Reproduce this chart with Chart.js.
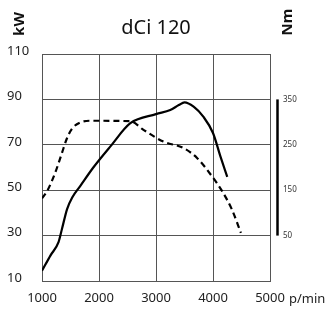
<!DOCTYPE html>
<html><head><meta charset="utf-8">
<script src="https://cdn.jsdelivr.net/npm/chart.js@4/dist/chart.umd.min.js"></script>
<style>html,body{margin:0;padding:0;background:#fff;overflow:hidden}</style>
</head><body>
<canvas id="c" width="333" height="309"></canvas>
<script>
const chartTitle = 'dCi 120';
const xTicks = [1000, 2000, 3000, 4000, 5000];
const kwTicks = [10, 30, 50, 70, 90, 110];
const nmTicks = [50, 150, 250, 350];
const powerRpm = [1000, 1150, 1290, 1350, 1440, 1530, 1670, 1900, 2200, 2550, 3000, 3250, 3400, 3500, 3660, 3830, 4000, 4130, 4250];
const powerKw  = [14.5, 21.3, 27.1, 32.9, 41.7, 46.8, 51.8, 60.0, 69.3, 79.5, 83.5, 85.3, 87.5, 88.7, 86.8, 82.4, 75.2, 64.9, 55.9];
const torqueRpm = [1000, 1090, 1230, 1350, 1440, 1530, 1670, 1880, 2550, 2780, 3130, 3480, 3720, 3980, 4160, 4330, 4490];
const torqueNm  = [132, 148, 188, 232, 265, 286, 299, 303, 302, 283, 257, 243, 221, 181, 148, 108, 56];

const FONT = '"Noto Sans", sans-serif';
const powerData = powerRpm.map((r, i) => ({x: r, y: powerKw[i]}));
const torqueData = torqueRpm.map((r, i) => ({x: r, y: torqueNm[i]}));

const extras = {
  id: 'extras',
  afterDraw(chart) {
    const ctx = chart.ctx;
    const y2 = chart.scales.y2, x = chart.scales.x;
    ctx.save();
    ctx.strokeStyle = '#000';
    ctx.lineWidth = 2.5;
    const bx = y2.left + 7.5;
    ctx.beginPath();
    ctx.moveTo(bx, y2.getPixelForValue(nmTicks[0]));
    ctx.lineTo(bx, y2.getPixelForValue(nmTicks[nmTicks.length - 1]));
    ctx.stroke();
    ctx.fillStyle = '#111';
    ctx.font = 'bold 15px ' + FONT;
    ctx.textAlign = 'center';
    ctx.textBaseline = 'middle';
    ctx.save(); ctx.translate(20, 24); ctx.rotate(-Math.PI / 2); ctx.fillText('kW', 0, 0); ctx.restore();
    ctx.save(); ctx.translate(288, 22); ctx.rotate(-Math.PI / 2); ctx.fillText('Nm', 0, 0); ctx.restore();
    ctx.font = '13px ' + FONT;
    ctx.fillStyle = '#222';
    ctx.textAlign = 'left';
    ctx.fillText('p/min', x.getPixelForValue(xTicks[xTicks.length - 1]) + 19, 299);
    ctx.restore();
  }
};

new Chart(document.getElementById('c'), {
  type: 'line',
  data: {
    datasets: [
      {data: powerData, yAxisID: 'y', borderColor: '#000', borderWidth: 2.2, pointRadius: 0, cubicInterpolationMode: 'monotone', fill: false},
      {data: torqueData, yAxisID: 'y2', borderColor: '#000', borderWidth: 2.2, borderDash: [6, 4], pointRadius: 0, cubicInterpolationMode: 'monotone', fill: false}
    ]
  },
  options: {
    responsive: false,
    animation: false,
    layout: {padding: {left: 7, right: 0, top: 0, bottom: 0}},
    plugins: {
      legend: {display: false},
      tooltip: {enabled: false},
      title: {display: true, text: chartTitle, fullSize: false, color: '#111',
        font: {family: FONT, size: 20, weight: 'normal'}, padding: {top: 16, bottom: 14}}
    },
    scales: {
      x: {
        type: 'linear', min: xTicks[0], max: xTicks[xTicks.length - 1],
        afterBuildTicks: s => { s.ticks = xTicks.map(v => ({value: v})); },
        afterFit: s => { s.height = 28; },
        grid: {color: '#555', lineWidth: 1, drawTicks: false},
        border: {color: '#555', width: 1},
        ticks: {color: '#222', font: {family: FONT, size: 13}, padding: 9, maxRotation: 0, callback: v => String(v)}
      },
      y: {
        position: 'left', min: kwTicks[0], max: kwTicks[kwTicks.length - 1],
        afterBuildTicks: s => { s.ticks = kwTicks.map(v => ({value: v})); },
        afterFit: s => { s.width = 35; },
        grid: {color: '#555', lineWidth: 1, drawTicks: false},
        border: {color: '#555', width: 1},
        ticks: {color: '#222', font: {family: FONT, size: 13}, crossAlign: 'far', labelOffset: -3, callback: v => String(v)}
      },
      y2: {
        position: 'right', min: -50, max: 450,
        afterBuildTicks: s => { s.ticks = nmTicks.map(v => ({value: v})); },
        afterFit: s => { s.width = 63; },
        grid: {display: false, drawTicks: false},
        border: {display: false},
        ticks: {color: '#333', font: {family: FONT, size: 8}, padding: 13, callback: v => String(v)}
      }
    }
  },
  plugins: [extras]
});
</script>
</body></html>
